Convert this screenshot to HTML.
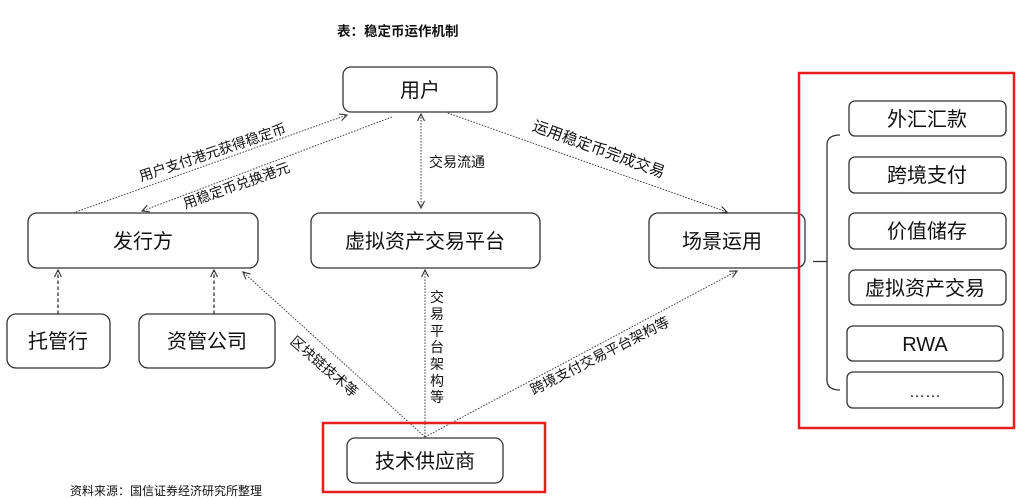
<!DOCTYPE html>
<html>
<head>
<meta charset="utf-8">
<style>
  html,body{margin:0;padding:0;background:#fff;}
  svg{display:block;}
  text{font-family:"Liberation Sans","Noto Sans CJK SC",sans-serif;fill:#111;}
</style>
</head>
<body>
<svg width="1017" height="500" viewBox="0 0 1017 500" xmlns="http://www.w3.org/2000/svg">
  <defs>
    <marker id="ah" markerWidth="10" markerHeight="10" refX="8" refY="4" orient="auto" markerUnits="userSpaceOnUse">
      <path d="M1,0.5 L8,4 L1,7.5" fill="none" stroke="#333" stroke-width="1.1"/>
    </marker>
    <marker id="ahs" markerWidth="10" markerHeight="10" refX="1" refY="4" orient="auto" markerUnits="userSpaceOnUse">
      <path d="M8,0.5 L1,4 L8,7.5" fill="none" stroke="#333" stroke-width="1.1"/>
    </marker>
  </defs>

  <!-- Title -->
  <text x="337" y="36" font-size="13.5" font-weight="bold">表：稳定币运作机制</text>

  <!-- Boxes -->
  <g fill="#fff" stroke="#333" stroke-width="1.3">
    <rect x="343" y="67" width="154" height="45" rx="8"/>
    <rect x="28" y="213" width="230" height="55" rx="9"/>
    <rect x="311" y="213" width="229" height="55" rx="9"/>
    <rect x="649" y="213" width="156" height="55" rx="9"/>
    <rect x="7" y="314" width="103" height="54" rx="9"/>
    <rect x="139" y="314" width="136" height="54" rx="9"/>
    <rect x="347" y="438" width="156" height="45" rx="8"/>
    <rect x="849" y="101" width="157" height="35" rx="6"/>
    <rect x="849" y="157" width="157" height="36" rx="6"/>
    <rect x="849" y="213" width="157" height="36" rx="6"/>
    <rect x="849" y="270" width="157" height="35" rx="6"/>
    <rect x="847" y="326" width="156" height="35" rx="6"/>
    <rect x="847" y="372" width="156" height="36" rx="6"/>
  </g>

  <!-- Box labels -->
  <g font-size="20" text-anchor="middle">
    <text x="420" y="97">用户</text>
    <text x="143" y="248">发行方</text>
    <text x="425" y="248">虚拟资产交易平台</text>
    <text x="722" y="248">场景运用</text>
    <text x="58" y="348">托管行</text>
    <text x="207" y="348">资管公司</text>
    <text x="425" y="468">技术供应商</text>
    <text x="927" y="126">外汇汇款</text>
    <text x="927" y="182">跨境支付</text>
    <text x="927" y="238">价值储存</text>
    <text x="925" y="295">虚拟资产交易</text>
    <text x="925" y="351">RWA</text>
    <text x="925" y="397" font-size="16">……</text>
  </g>

  <!-- Connectors -->
  <g fill="none" stroke="#444" stroke-width="1" stroke-dasharray="1.6 1.4">
    <line x1="73" y1="213" x2="347" y2="115" marker-end="url(#ah)"/>
    <line x1="392" y1="117" x2="142" y2="211" marker-end="url(#ah)"/>
    <line x1="421" y1="114" x2="421" y2="208" marker-start="url(#ahs)" marker-end="url(#ah)"/>
    <line x1="445" y1="112" x2="727" y2="212" marker-end="url(#ah)"/>
    <line x1="425" y1="437" x2="243" y2="272" marker-end="url(#ah)"/>
    <line x1="425" y1="437" x2="425" y2="270" marker-end="url(#ah)"/>
    <line x1="425" y1="437" x2="737" y2="271" marker-end="url(#ah)"/>
  </g>
  <g fill="none" stroke="#333" stroke-width="1.3" stroke-dasharray="3.5 2.5">
    <line x1="58" y1="314" x2="58" y2="270" marker-end="url(#ah)"/>
    <line x1="214" y1="314" x2="214" y2="270" marker-end="url(#ah)"/>
  </g>

  <!-- Connector labels -->
  <g font-size="14" text-anchor="middle">
    <text transform="translate(214,157) rotate(-18.5)">用户支付港元获得稳定币</text>
    <text transform="translate(238,190) rotate(-19.5)">用稳定币兑换港元</text>
    <text x="457" y="167">交易流通</text>
    <text transform="translate(597,154) rotate(20)" font-size="15.5">运用稳定币完成交易</text>
    <text transform="translate(321,370) rotate(41)">区块链技术等</text>
    <text transform="translate(602,360) rotate(-27)">跨境支付交易平台架构等</text>
    <text x="437" y="302">交</text>
    <text x="437" y="319">易</text>
    <text x="437" y="336">平</text>
    <text x="437" y="352">台</text>
    <text x="437" y="369">架</text>
    <text x="437" y="386">构</text>
    <text x="437" y="402">等</text>
  </g>

  <!-- Bracket -->
  <g fill="none" stroke="#333" stroke-width="1.3">
    <path d="M840,135 Q827,135 827,145 L827,380 Q827,390 840,390"/>
    <line x1="813" y1="261.5" x2="827" y2="261.5"/>
  </g>

  <!-- Red highlight boxes -->
  <g fill="none" stroke="#e3201c" stroke-width="2.5">
    <rect x="799" y="73" width="215" height="355"/>
    <rect x="323" y="423" width="222" height="69"/>
  </g>

  <!-- Source -->
  <text x="70" y="495" font-size="12" fill="#222">资料来源：国信证券经济研究所整理</text>
</svg>
</body>
</html>
